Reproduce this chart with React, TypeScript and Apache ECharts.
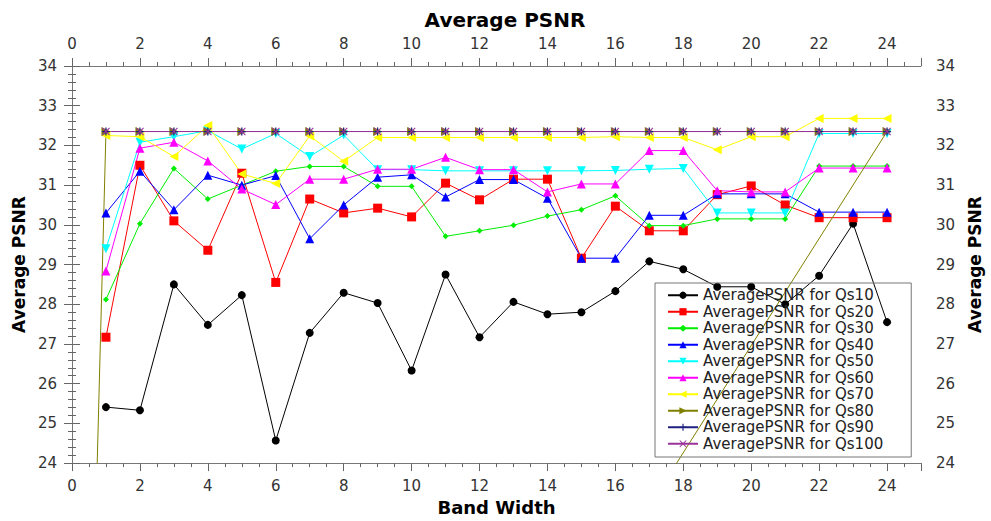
import React, { useEffect, useRef } from "react";
import * as echarts from "echarts";

const bands = [1, 2, 3, 4, 5, 6, 7, 8, 9, 10, 11, 12, 13, 14, 15, 16, 17, 18, 19, 20, 21, 22, 23, 24];

const qs10 = [25.41, 25.33, 28.5, 27.48, 28.23, 24.57, 27.28, 28.29, 28.03, 26.33, 28.75, 27.17, 28.06, 27.75, 27.8, 28.33, 29.08, 28.88, 28.44, 28.44, 28.0, 28.72, 30.03, 27.55];
const qs20 = [27.17, 31.5, 30.1, 29.36, 31.3, 28.55, 30.65, 30.3, 30.42, 30.2, 31.05, 30.63, 31.15, 31.15, 29.16, 30.47, 29.85, 29.85, 30.76, 30.98, 30.5, 30.18, 30.18, 30.18];
const qs30 = [28.12, 30.03, 31.42, 30.65, 31.0, 31.35, 31.47, 31.47, 30.97, 30.97, 29.71, 29.85, 29.99, 30.22, 30.38, 30.73, 29.98, 29.98, 30.15, 30.15, 30.15, 31.48, 31.48, 31.48];
const qs40 = [30.3, 31.35, 30.38, 31.25, 31.0, 31.24, 29.65, 30.5, 31.2, 31.26, 30.7, 31.14, 31.14, 30.67, 29.16, 29.16, 30.24, 30.24, 30.78, 30.78, 30.78, 30.32, 30.32, 30.32];
const qs50 = [29.4, 32.08, 32.22, 32.37, 31.91, 32.3, 31.72, 32.26, 31.39, 31.39, 31.36, 31.36, 31.36, 31.36, 31.36, 31.37, 31.4, 31.42, 30.3, 30.3, 30.3, 32.3, 32.3, 32.3];
const qs60 = [28.84, 31.93, 32.08, 31.61, 30.9, 30.51, 31.15, 31.15, 31.4, 31.4, 31.7, 31.39, 31.39, 30.83, 31.03, 31.03, 31.87, 31.87, 30.86, 30.83, 30.83, 31.43, 31.43, 31.43];
const qs70 = [32.25, 32.22, 31.72, 32.5, 31.28, 31.04, 32.24, 31.6, 32.2, 32.2, 32.2, 32.2, 32.2, 32.2, 32.2, 32.22, 32.2, 32.2, 31.89, 32.22, 32.22, 32.68, 32.68, 32.68];
const qs80 = [32.35, 32.35, 32.35, 32.35, 32.35, 32.35, 32.35, 32.35, 32.35, 32.35, 32.35, 32.35, 32.35, 32.35, 32.35, 32.35, 32.35, 32.35, 32.35, 32.35, 32.35, 32.35, 32.35, 32.35];
const qs90 = [32.35, 32.35, 32.35, 32.35, 32.35, 32.35, 32.35, 32.35, 32.35, 32.35, 32.35, 32.35, 32.35, 32.35, 32.35, 32.35, 32.35, 32.35, 32.35, 32.35, 32.35, 32.35, 32.35, 32.35];
const qs100 = [32.35, 32.35, 32.35, 32.35, 32.35, 32.35, 32.35, 32.35, 32.35, 32.35, 32.35, 32.35, 32.35, 32.35, 32.35, 32.35, 32.35, 32.35, 32.35, 32.35, 32.35, 32.35, 32.35, 32.35];
// Qs80 curve starts and ends at the origin (drawn as a closed loop, clipped by the axes)
const qs80Origin = [0, 0];

const yTicks = [24, 25, 26, 27, 28, 29, 30, 31, 32, 33, 34];
const xTickStep = 2;

const FONT = "DejaVu Sans";

const SYM_DOWN = "path://M0,0L10,0L5,9Z";
const SYM_LEFT = "path://M9,0L9,10L0,5Z";
const SYM_RIGHT = "path://M0,0L0,10L9,5Z";
const SYM_PLUS = "path://M4.2,0H5.8V4.2H10V5.8H5.8V10H4.2V5.8H0V4.2H4.2Z";
const SYM_X = "path://M1,0L5,4L9,0L10,1L6,5L10,9L9,10L5,6L1,10L0,9L4,5L0,1Z";

const seriesDefs = [
  { name: "AveragePSNR for Qs10", data: qs10, color: "#000000", symbol: "circle", size: 8 },
  { name: "AveragePSNR for Qs20", data: qs20, color: "#ff0000", symbol: "rect", size: 9 },
  { name: "AveragePSNR for Qs30", data: qs30, color: "#00ee00", symbol: "diamond", size: 6 },
  { name: "AveragePSNR for Qs40", data: qs40, color: "#0000ff", symbol: "triangle", size: 9 },
  { name: "AveragePSNR for Qs50", data: qs50, color: "#00ffff", symbol: SYM_DOWN, size: 9 },
  { name: "AveragePSNR for Qs60", data: qs60, color: "#ff00ff", symbol: "triangle", size: 9 },
  { name: "AveragePSNR for Qs70", data: qs70, color: "#ffff00", symbol: SYM_LEFT, size: 9 },
  { name: "AveragePSNR for Qs80", data: qs80, color: "#808000", symbol: SYM_RIGHT, size: 9 },
  { name: "AveragePSNR for Qs90", data: qs90, color: "#202080", symbol: SYM_PLUS, size: 8 },
  { name: "AveragePSNR for Qs100", data: qs100, color: "#993399", symbol: SYM_X, size: 8 },
];

export default function App() {
  const ref = useRef<HTMLDivElement>(null);

  useEffect(() => {
    document.body.style.margin = "0";
    if (!ref.current) return;
    const chart = echarts.init(ref.current, undefined, { renderer: "svg" });

    const axisLine = { show: true, lineStyle: { color: "#777777", width: 1 } };
    const axisTick = { show: true, length: 8, lineStyle: { color: "#666666" } };
    const labelStyle = { fontFamily: FONT, fontSize: 15, color: "#333333", margin: 15 };
    const nameStyle = { fontFamily: FONT, fontWeight: "bold" as const, color: "#000000" };

    const xBase = {
      type: "value" as const,
      min: 0,
      max: 25,
      interval: xTickStep,
      axisLine,
      axisTick,
      minorTick: { show: true, splitNumber: 4, length: 4, lineStyle: { color: "#666666" } },
      splitLine: { show: false },
      axisLabel: { ...labelStyle, showMaxLabel: false },
    };
    const yBase = {
      type: "value" as const,
      min: yTicks[0],
      max: yTicks[yTicks.length - 1],
      interval: 1,
      axisLine,
      axisTick,
      minorTick: { show: true, splitNumber: 5, length: 4, lineStyle: { color: "#666666" } },
      splitLine: { show: false },
      axisLabel: { ...labelStyle },
      name: "Average PSNR",
      nameLocation: "middle" as const,
      nameRotate: 90,
      nameGap: 45,
      nameTextStyle: { ...nameStyle, fontSize: 17 },
    };

    const series = seriesDefs.map((s) => {
      const pts: number[][] = bands.map((b, i) => [b, s.data[i]]);
      const data = s.name.endsWith("Qs80") ? [qs80Origin, ...pts, qs80Origin] : pts;
      return {
        name: s.name,
        type: "line" as const,
        data,
        symbol: s.symbol,
        symbolSize: s.size,
        showAllSymbol: true,
        clip: true,
        color: s.color,
        lineStyle: { color: s.color, width: 1 },
        itemStyle: { color: s.color },
        emphasis: { disabled: true },
      };
    });

    chart.setOption({
      animation: false,
      backgroundColor: "#ffffff",
      title: {
        text: "Average PSNR",
        left: 500,
        textAlign: "center",
        top: 5,
        textStyle: { fontFamily: FONT, fontWeight: "bold", fontSize: 20, color: "#000000" },
      },
      grid: { left: 72, right: 62, top: 66, bottom: 56, containLabel: false },
      xAxis: [
        {
          ...xBase,
          position: "bottom",
          name: "Band Width",
          nameLocation: "middle",
          nameGap: 33,
          nameTextStyle: { ...nameStyle, fontSize: 18 },
        },
        { ...xBase, position: "top" },
      ],
      yAxis: [
        { ...yBase, position: "left" },
        { ...yBase, position: "right" },
      ],
      legend: {
        orient: "vertical",
        left: 655,
        top: 283,
        itemWidth: 30,
        itemHeight: 9,
        itemGap: 0,
        padding: [4, 28, 5, 12],
        borderColor: "#777777",
        borderWidth: 1,
        backgroundColor: "transparent",
        selectedMode: false,
        textStyle: { fontFamily: FONT, fontSize: 15, color: "#222222", lineHeight: 16.5 },
        data: seriesDefs.map((s) => s.name),
      },
      series,
    });

    return () => chart.dispose();
  }, []);

  return <div ref={ref} style={{ width: 991, height: 521 }} />;
}
